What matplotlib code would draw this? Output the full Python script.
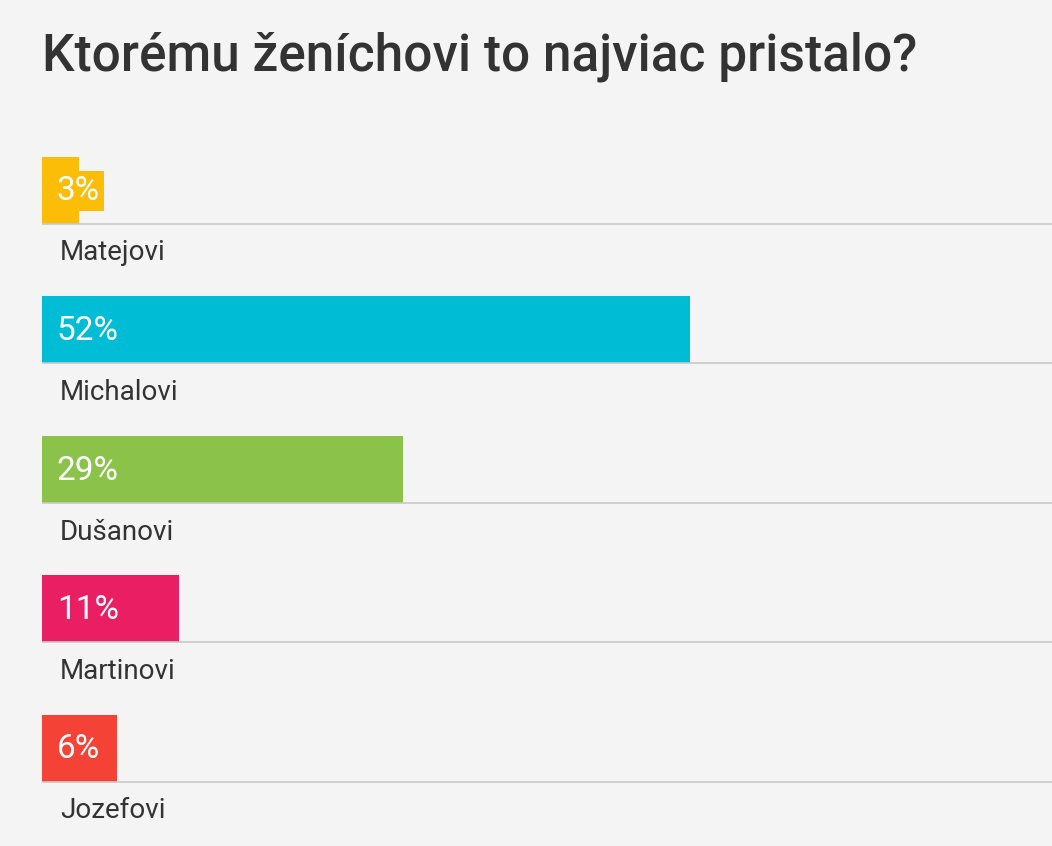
import matplotlib
matplotlib.use("Agg")
import matplotlib.pyplot as plt

title = "Ktorému ženíchovi to najviac pristalo?"
categories = ["Matejovi", "Michalovi", "Dušanovi", "Martinovi", "Jozefovi"]
values = [3, 52, 29, 11, 6]
colors = ["#fbbd08", "#00bcd4", "#8bc34a", "#e91e63", "#f44336"]

plt.rcParams['font.family'] = ['Roboto', 'DejaVu Sans']
W, H = 1052, 846
fig = plt.figure(figsize=(W/100, H/100), dpi=100, facecolor="#f4f4f4")
left = 42
ax = fig.add_axes([left/W, 0, 1-left/W, 1])
ax.set_facecolor("#f4f4f4")
ppp = 12.46  # pixels per percent
ax.set_xlim(0, (W-left)/ppp)
ax.set_ylim(H, 0)
ax.axis("off")

fig.text(left/W, 1-57/H, title, fontsize=37, color="#333333", va="center", ha="left", fontweight="medium")

top0, step, bh = 157, 139.5, 67
for i, (c, v, col) in enumerate(zip(categories, values, colors)):
    top = top0 + step*i
    ax.barh(top + bh/2, v, height=bh, left=0, color=col)
    ax.plot([0, (W-left)/ppp], [top+bh, top+bh], color="#c8c8c8", lw=1.2)
    ax.text(15/ppp, top + bh/2 + 1, f"{v}%", color="white", fontsize=24, va="center", ha="left",
            bbox=dict(boxstyle="square,pad=0.12", fc=col, ec="none"))
    ax.text(18/ppp, top + bh + 29, c, color="#333333", fontsize=20, va="center", ha="left")

fig.savefig("out.png", dpi=100, facecolor=fig.get_facecolor())
